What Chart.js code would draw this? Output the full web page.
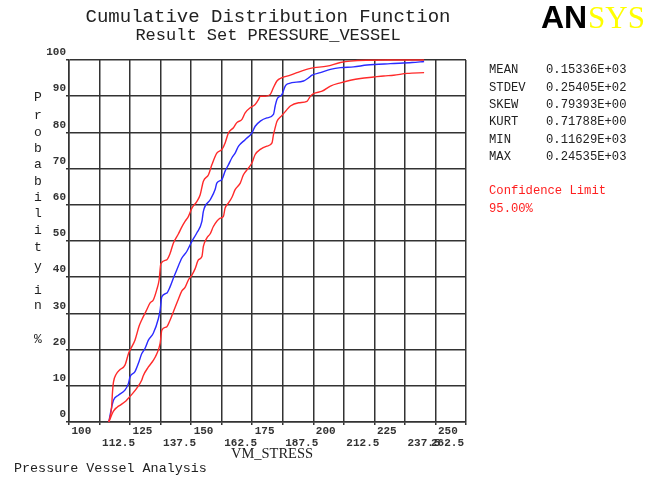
<!DOCTYPE html>
<html>
<head>
<meta charset="utf-8">
<script src="https://cdn.jsdelivr.net/npm/chart.js@4.4.0/dist/chart.umd.min.js"></script>
<style>
  html, body { margin: 0; padding: 0; background: #ffffff; }
  #wrap { width: 657px; height: 479px; position: relative; }
</style>
</head>
<body>
<div id="wrap"><canvas id="cdf" width="657" height="479"></canvas></div>
<script>
// Axis tick values
const stressTicks = [100, 112.5, 125, 137.5, 150, 162.5, 175, 187.5, 200, 212.5, 225, 237.5, 250, 262.5];
const probTicks = [0, 10, 20, 30, 40, 50, 60, 70, 80, 90, 100];

// Empirical CDF of VM_STRESS: [stress, probability %]
const cdfCurve = [
  [116.29, 0], [117.2, 3.2], [118.2, 6.0], [120.2, 7.4], [122.9, 8.8], [124.3, 10.6], [125.0, 12.5],
  [127.0, 13.9], [128.4, 16.2], [129.8, 18.9], [131.1, 20.3], [132.5, 22.6], [134.5, 24.5], [136.6, 28.6],
  [137.3, 30.9], [138.0, 34.6], [140.0, 35.6], [141.4, 37.4], [142.7, 39.7], [144.1, 42.0], [146.2, 45.3],
  [148.2, 47.1], [150.3, 49.9], [152.3, 52.2], [154.4, 55.4], [155.0, 58.2], [157.8, 61.4], [159.8, 64.2],
  [160.5, 66.0], [162.6, 67.0], [163.9, 69.3], [165.3, 71.1], [166.7, 73.0], [168.0, 74.3], [169.4, 76.2],
  [172.1, 78.0], [174.9, 79.9], [176.2, 81.7], [178.3, 83.1], [181.0, 84.0], [183.7, 85.0], [184.4, 87.3],
  [185.1, 89.1], [187.2, 90.5], [188.5, 92.8], [189.9, 93.5], [196.0, 94.2], [198.1, 95.1], [199.5, 95.8],
  [202.9, 96.5], [207.0, 97.4], [211.1, 97.9], [216.5, 98.1], [222.0, 98.6], [231.5, 99.0], [240.4, 99.3],
  [245.35, 99.6]
];

// Upper confidence bound (95 %)
const upperBound = [
  [116.29, 0], [117.4, 3.8], [117.8, 8.2], [118.2, 11.0], [119.3, 13.2], [120.9, 14.5], [122.9, 15.7],
  [124.4, 19.0], [125.4, 20.4], [127.0, 22.6], [128.7, 26.5], [129.9, 28.4], [131.6, 30.7], [133.2, 32.9],
  [134.5, 33.7], [135.9, 36.5], [136.9, 39.3], [137.6, 43.7], [140.0, 44.8], [141.4, 46.6], [142.7, 49.4],
  [144.8, 52.0], [146.2, 53.9], [147.5, 55.4], [148.9, 56.8], [150.3, 59.1], [152.3, 60.9], [153.7, 62.8],
  [155.0, 66.5], [157.1, 68.3], [158.5, 71.1], [160.5, 74.3], [162.6, 75.3], [163.9, 77.1], [165.3, 79.9],
  [167.3, 81.3], [168.7, 82.7], [170.8, 83.6], [172.1, 85.4], [174.2, 86.8], [176.2, 87.7], [177.6, 89.1],
  [178.3, 90.0], [180.3, 90.0], [182.4, 90.5], [183.7, 92.4], [185.1, 94.2], [187.2, 95.1], [190.6, 95.8],
  [193.3, 96.5], [198.8, 97.7], [205.6, 98.3], [211.1, 99.3], [215.2, 99.7], [230.7, 100], [245.35, 100]
];

// Lower confidence bound (95 %)
const lowerBound = [
  [116.29, 0], [118.2, 3.0], [119.7, 4.1], [121.3, 4.8], [123.4, 5.9], [124.6, 6.8], [125.8, 7.7],
  [127.7, 9.3], [129.8, 11.6], [130.4, 12.8], [132.5, 15.2], [134.5, 17.0], [135.9, 18.8], [137.3, 21.7],
  [138.0, 25.4], [140.0, 26.3], [141.4, 28.2], [142.7, 30.4], [144.8, 34.0], [146.2, 36.2], [147.5, 37.2],
  [148.9, 39.3], [150.3, 40.6], [151.6, 42.3], [153.0, 44.8], [154.4, 45.7], [155.0, 48.5], [156.4, 50.8],
  [157.8, 52.0], [159.1, 54.0], [161.9, 56.3], [163.2, 56.8], [163.9, 59.1], [165.3, 60.5], [166.7, 62.1],
  [168.0, 64.2], [170.1, 66.0], [171.4, 68.3], [173.5, 70.2], [174.9, 71.6], [176.2, 73.9], [178.3, 75.3],
  [181.0, 76.2], [183.1, 77.1], [183.7, 79.4], [184.4, 81.3], [185.1, 83.0], [187.2, 84.7], [189.2, 86.3],
  [190.6, 87.3], [194.0, 88.2], [197.4, 88.6], [198.8, 90.0], [200.1, 90.7], [203.6, 91.4], [207.0, 92.8],
  [211.1, 93.7], [215.2, 94.4], [219.3, 94.9], [224.7, 95.3], [228.8, 95.6], [232.9, 95.8], [238.4, 96.3],
  [245.35, 96.5]
];

// Summary statistics
const statNames = ['MEAN', 'STDEV', 'SKEW', 'KURT', 'MIN', 'MAX'];
const statValues = ['0.15336E+03', '0.25405E+02', '0.79393E+00', '0.71788E+00', '0.11629E+03', '0.24535E+03'];
const confidenceLabel = 'Confidence Limit';
const confidenceLevel = '95.00%';

const toPoints = arr => arr.map(([x, y]) => ({ x, y }));

const MONO = '"Liberation Mono", "DejaVu Sans Mono", monospace';
const SERIF = '"Liberation Serif", "DejaVu Serif", serif';
const GRID = '#333333';

// Annotation layer: titles, staggered x labels, stacked y title, statistics, logo
const annotations = {
  id: 'annotations',
  afterDraw(chart) {
    const ctx = chart.ctx;
    const xs = chart.scales.x;
    ctx.save();

    // titles
    ctx.fillStyle = '#222';
    ctx.textAlign = 'center';
    ctx.textBaseline = 'middle';
    ctx.font = '19px ' + MONO;
    ctx.fillText('Cumulative Distribution Function', 268, 17);
    ctx.font = '17px ' + MONO;
    ctx.fillText('Result Set PRESSURE_VESSEL', 268, 35);

    // x tick labels, alternating rows
    ctx.font = 'bold 11px ' + MONO;
    ctx.fillStyle = '#333';
    stressTicks.forEach((v, i) => {
      const px = xs.getPixelForValue(v);
      const last = i === stressTicks.length - 1;
      ctx.textAlign = last ? 'right' : 'left';
      ctx.fillText(String(v), last ? px - 2 : px + 2.5, i % 2 === 0 ? 431 : 443.5);
    });

    // x axis title
    ctx.textAlign = 'center';
    ctx.fillStyle = '#222';
    ctx.font = '14.5px ' + SERIF;
    ctx.fillText('VM_STRESS', 272, 454);

    // footer
    ctx.textAlign = 'left';
    ctx.font = '13.4px ' + MONO;
    ctx.fillText('Pressure Vessel Analysis', 14, 468);

    // y axis title, one character per row
    const yTitle = 'Probability in %';
    const rows = [98, 116, 133, 149, 165, 182, 198, 214, 231, 248, 267, 279, 291, 306, 323, 340];
    ctx.textAlign = 'center';
    ctx.font = '13px ' + MONO;
    [...yTitle].forEach((ch, i) => { if (ch !== ' ') ctx.fillText(ch, 38, rows[i]); });

    // statistics block
    ctx.textAlign = 'left';
    ctx.font = '12.2px ' + MONO;
    ctx.fillStyle = '#222';
    statNames.forEach((n, i) => {
      const y = 70 + i * 17.4;
      ctx.fillText(n, 489, y);
      ctx.fillText(statValues[i], 546, y);
    });
    ctx.fillStyle = '#ff2020';
    ctx.fillText(confidenceLabel, 489, 191);
    ctx.fillText(confidenceLevel, 489, 209);

    // logo
    ctx.textBaseline = 'alphabetic';
    ctx.fillStyle = '#000';
    ctx.font = 'bold 32px "Liberation Sans", Arial, sans-serif';
    ctx.fillText('AN', 541, 28);
    ctx.fillStyle = '#ffff00';
    ctx.font = '31px ' + SERIF;
    ctx.fillText('SYS', 588, 28);

    ctx.restore();
  }
};

const lineStyle = (color) => ({
  borderColor: color,
  backgroundColor: color,
  borderWidth: 1.4,
  pointRadius: 0,
  cubicInterpolationMode: 'monotone',
  fill: false,
  clip: 4
});

new Chart(document.getElementById('cdf'), {
  type: 'line',
  data: {
    datasets: [
      Object.assign({ label: 'Upper limit', data: toPoints(upperBound) }, lineStyle('#ff2a2a')),
      Object.assign({ label: 'Lower limit', data: toPoints(lowerBound) }, lineStyle('#ff2a2a')),
      Object.assign({ label: 'CDF', data: toPoints(cdfCurve) }, lineStyle('#2a2aff'))
    ]
  },
  options: {
    responsive: false,
    animation: false,
    devicePixelRatio: 1,
    layout: { padding: { left: 29, right: 191, top: 60, bottom: 37 } },
    plugins: { legend: { display: false }, tooltip: { enabled: false }, title: { display: false } },
    scales: {
      x: {
        type: 'linear',
        min: stressTicks[0],
        max: stressTicks[stressTicks.length - 1],
        afterBuildTicks: s => { s.ticks = stressTicks.map(v => ({ value: v })); },
        afterFit: s => { s.height = 20; },
        ticks: { display: false },
        grid: { color: GRID, lineWidth: 1.5, drawTicks: true, tickLength: 3 },
        border: { color: GRID, width: 1.5 }
      },
      y: {
        type: 'linear',
        min: 0,
        max: 100,
        afterBuildTicks: s => { s.ticks = probTicks.map(v => ({ value: v })); },
        afterFit: s => { s.width = 40; },
        ticks: {
          color: '#333',
          font: { family: MONO, size: 11, weight: 'bold' },
          padding: 0,
          labelOffset: -7.5,
          callback: v => String(v)
        },
        grid: { color: GRID, lineWidth: 1.5, drawTicks: true, tickLength: 3 },
        border: { color: GRID, width: 1.5 }
      }
    }
  },
  plugins: [annotations]
});
</script>
</body>
</html>
